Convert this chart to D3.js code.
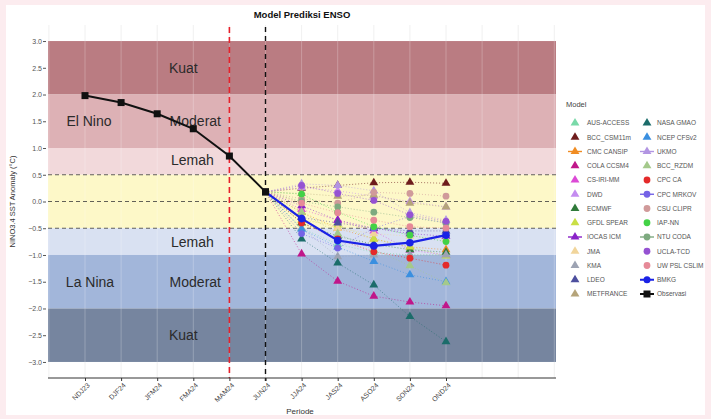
<!DOCTYPE html>
<html>
<head>
<meta charset="utf-8">
<script src="https://cdn.jsdelivr.net/npm/d3@7"></script>
<style>
  html, body { margin: 0; padding: 0; background: #fcecef; }
  svg { display: block; font-family: "Liberation Sans", Arial, sans-serif; }
</style>
</head>
<body>
<svg id="chart" width="711" height="419"></svg>
<script>
// Seasons on the x axis
const periods = ["NDJ23", "DJF24", "JFM24", "FMA24", "MAM24", "JUN24", "JJA24", "JAS24", "ASO24", "SON24", "OND24"];
const forecastPeriods = ["JJA24", "JAS24", "ASO24", "SON24", "OND24"];
const yTicks = [3.0, 2.5, 2.0, 1.5, 1.0, 0.5, 0.0, -0.5, -1.0, -1.5, -2.0, -2.5, -3.0];

// Observed NINO3.4 anomaly
const observedPeriods = ["NDJ23", "DJF24", "JFM24", "FMA24", "MAM24", "JUN24"];
const observedValues = [1.98, 1.85, 1.64, 1.36, 0.85, 0.18];

// BMKG forecast (starts from the last observation)
const bmkgPeriods = ["JUN24", "JJA24", "JAS24", "ASO24", "SON24", "OND24"];
const bmkgValues = [0.18, -0.32, -0.73, -0.83, -0.77, -0.63];

// Model names, in legend order
const modelNames = [
  "AUS-ACCESS", "BCC_CSM11m", "CMC CANSIP", "COLA CCSM4", "CS-IRI-MM", "DWD", "ECMWF",
  "GFDL SPEAR", "IOCAS ICM", "JMA", "KMA", "LDEO", "METFRANCE",
  "NASA GMAO", "NCEP CFSv2", "UKMO", "BCC_RZDM", "CPC CA", "CPC MRKOV", "CSU CLIPR",
  "IAP-NN", "NTU CODA", "UCLA-TCD", "UW PSL CSLIM"
];
// Model type: dynamical (triangle) or statistical (circle)
const modelTypes = [
  "dyn", "dyn", "dyn", "dyn", "dyn", "dyn", "dyn", "dyn", "dyn", "dyn", "dyn", "dyn", "dyn",
  "dyn", "dyn", "dyn", "dyn", "stat", "stat", "stat", "stat", "stat", "stat", "stat"
];
// Forecasts for JJA, JAS, ASO, SON, OND
const aus = [-0.50, -0.80, -0.95, -1.00, -1.00];
const bccCsm = [0.25, 0.30, 0.35, 0.36, 0.34];
const cmcCansip = [-0.20, -0.50, -0.70, -0.85, -0.90];
const colaCcsm4 = [-0.98, -1.49, -1.77, -1.88, -1.95];
const csIriMm = [-0.15, -0.35, -0.55, -0.91, -1.00];
const dwd = [0.26, 0.20, 0.10, 0.00, -0.10];
const ecmwf = [-0.40, -0.65, -0.80, -0.90, -0.95];
const gfdlSpear = [-0.35, -0.44, -0.70, -0.85, -1.02];
const iocasIcm = [-0.08, -0.35, -0.50, -0.60, -0.65];
const jma = [-0.30, -0.50, -0.60, -0.65, -0.70];
const kma = [-0.50, -1.03, -1.00, -1.00, -1.00];
const ldeo = [-0.30, -0.40, -0.50, -0.55, -0.55];
const metFrance = [0.15, 0.10, 0.12, -0.03, -0.10];
const nasaGmao = [-0.70, -1.15, -1.56, -2.15, -2.62];
const ncepCfsv2 = [-0.52, -0.85, -1.12, -1.37, -1.50];
const ukmo = [0.33, 0.30, 0.20, -0.21, -0.35];
const bccRzdm = [-0.20, -0.60, -0.90, -1.20, -1.52];
const cpcCa = [-0.40, -0.70, -0.94, -1.06, -1.19];
const cpcMrkov = [-0.60, -0.87, -0.50, -0.28, -0.40];
const csuClipr = [0.05, -0.03, 0.17, 0.15, 0.10];
const iapNn = [0.14, -0.20, -0.47, -0.63, -0.75];
const ntuCoda = [0.00, -0.10, -0.20, -0.30, -0.40];
const uclaTcd = [0.30, 0.15, 0.02, -0.25, -0.37];
const uwPslCslim = [-0.03, -0.21, -0.35, -0.47, -0.50];
const modelValues = [aus, bccCsm, cmcCansip, colaCcsm4, csIriMm, dwd, ecmwf, gfdlSpear, iocasIcm,
  jma, kma, ldeo, metFrance, nasaGmao, ncepCfsv2, ukmo, bccRzdm, cpcCa, cpcMrkov, csuClipr,
  iapNn, ntuCoda, uclaTcd, uwPslCslim];

// ENSO intensity categories
const bandLows = [2.0, 1.0, 0.5, -0.5, -1.0, -2.0, -3.0];
const bandHighs = [3.0, 2.0, 1.0, 0.5, -0.5, -1.0, -2.0];
const bandLabels = [
  { text: "Kuat", x: "FMA24", dx: -10, value: 2.5 },
  { text: "El Nino", x: "NDJ23", dx: 4, value: 1.5 },
  { text: "Moderat", x: "FMA24", dx: 2, value: 1.5 },
  { text: "Lemah", x: "FMA24", dx: -1, value: 0.78 },
  { text: "Lemah", x: "FMA24", dx: -1, value: -0.75 },
  { text: "La Nina", x: "NDJ23", dx: 5, value: -1.5 },
  { text: "Moderat", x: "FMA24", dx: 2, value: -1.5 },
  { text: "Kuat", x: "FMA24", dx: -10, value: -2.5 }
];

// ---- styling ----
const bandColors = ["#ba7c82", "#ddb1b5", "#f2d9db", "#fdf8c8", "#d9e1f2", "#a2b6da", "#76859f"];
const modelColors = [
  "#79d9a8", "#6e1c1c", "#f08c22", "#c0168a", "#dc4ad6", "#c48cf0", "#2f7a3a",
  "#c9df45", "#8a22c8", "#f1d59b", "#9da3b3", "#4d4f9e", "#b5a47a",
  "#1b6c6a", "#3a8fe0", "#b295e2", "#a4c98b", "#e42a2a", "#7563e6", "#d09a9a",
  "#43d246", "#7eaa80", "#9552d2", "#e68a98"
];
const solidKey = new Set(["CMC CANSIP", "IOCAS ICM", "UKMO", "CPC MRKOV", "NTU CODA"]);

const svg = d3.select("#chart");

// card
svg.append("rect").attr("x", 6).attr("y", 5).attr("width", 699).attr("height", 410).attr("fill", "#ffffff");

const panel = { left: 48, right: 556, top: 25, bottom: 378 };

const x = d3.scalePoint().domain(periods).range([85, 446]);
const y = d3.scaleLinear().domain([-3.3, 3.3]).range([panel.bottom, panel.top]);

// vertical grid outside the bands
const gridX = d3.range(-1, 14).map(i => 85 + i * x.step()).filter(v => v > panel.left && v < panel.right);
svg.append("g").selectAll("line").data(gridX).join("line")
  .attr("x1", d => d).attr("x2", d => d)
  .attr("y1", panel.top).attr("y2", panel.bottom)
  .attr("stroke", "#ececec").attr("stroke-width", 0.8);

// bands
svg.append("g").selectAll("rect").data(bandLows).join("rect")
  .attr("x", panel.left).attr("width", panel.right - panel.left)
  .attr("y", (d, i) => y(bandHighs[i]))
  .attr("height", (d, i) => y(d) - y(bandHighs[i]))
  .attr("fill", (d, i) => bandColors[i]);

// grid lines over the bands
svg.append("g").selectAll("line").data(gridX).join("line")
  .attr("x1", d => d).attr("x2", d => d)
  .attr("y1", y(3)).attr("y2", y(-3))
  .attr("stroke", "#ffffff").attr("stroke-opacity", 0.3).attr("stroke-width", 0.8);

// threshold dashes
svg.append("g").selectAll("line").data([0.5, 0, -0.5]).join("line")
  .attr("x1", panel.left).attr("x2", panel.right)
  .attr("y1", d => y(d)).attr("y2", d => y(d))
  .attr("stroke", "#3a3a3a").attr("stroke-width", 0.8).attr("stroke-dasharray", "4,3");

// band labels
svg.append("g").selectAll("text").data(bandLabels).join("text")
  .attr("x", d => x(d.x) + d.dx).attr("y", d => y(d.value))
  .attr("dy", "0.35em").attr("text-anchor", "middle")
  .attr("font-size", 14).attr("fill", "#2b2b2b")
  .text(d => d.text);

// vertical markers
svg.append("line").attr("x1", x("MAM24")).attr("x2", x("MAM24"))
  .attr("y1", panel.top + 2).attr("y2", panel.bottom)
  .attr("stroke", "#e8202a").attr("stroke-width", 1.6).attr("stroke-dasharray", "6,4");
svg.append("line").attr("x1", x("JUN24")).attr("x2", x("JUN24"))
  .attr("y1", panel.top + 2).attr("y2", panel.bottom + 3)
  .attr("stroke", "#111").attr("stroke-width", 1.4).attr("stroke-dasharray", "5,4");

// model plume lines (dotted, starting from the last observation)
const startVal = observedValues[observedValues.length - 1];
const lineGen = d3.line().x(d => x(d[0])).y(d => y(d[1]));
modelValues.forEach((vals, i) => {
  const pts = [["JUN24", startVal]].concat(forecastPeriods.map((p, j) => [p, vals[j]]));
  svg.append("path").attr("d", lineGen(pts)).attr("fill", "none")
    .attr("stroke", modelColors[i]).attr("stroke-width", 0.7)
    .attr("stroke-dasharray", "1,2").attr("opacity", 0.85);
});

const tri = d3.symbol().type(d3.symbolTriangle).size(34);
const circ = d3.symbol().type(d3.symbolCircle).size(36);

function marker(g, type, color, cx, cy) {
  g.append("path").attr("d", type === "dyn" ? tri() : circ())
    .attr("transform", `translate(${cx},${cy})`).attr("fill", color);
}

// model points
const ptsG = svg.append("g");
modelValues.forEach((vals, i) => {
  vals.forEach((v, j) => marker(ptsG, modelTypes[i], modelColors[i], x(forecastPeriods[j]), y(v)));
});

// observed line
svg.append("path")
  .attr("d", lineGen(observedPeriods.map((p, i) => [p, observedValues[i]])))
  .attr("fill", "none").attr("stroke", "#111").attr("stroke-width", 2);
svg.append("g").selectAll("rect").data(observedValues).join("rect")
  .attr("x", (d, i) => x(observedPeriods[i]) - 3.5).attr("y", d => y(d) - 3.5)
  .attr("width", 7).attr("height", 7).attr("fill", "#111");

// BMKG line
svg.append("path")
  .attr("d", lineGen(bmkgPeriods.map((p, i) => [p, bmkgValues[i]])))
  .attr("fill", "none").attr("stroke", "#1a22e6").attr("stroke-width", 2.2);
svg.append("g").selectAll("circle").data(bmkgValues.slice(1)).join("circle")
  .attr("cx", (d, i) => x(bmkgPeriods[i + 1])).attr("cy", d => y(d))
  .attr("r", 3.8).attr("fill", "#1a22e6");
// last observed point on top
svg.append("rect").attr("x", x("JUN24") - 3.5).attr("y", y(startVal) - 3.5)
  .attr("width", 7).attr("height", 7).attr("fill", "#111");

// axes
const xAxis = svg.append("g").attr("transform", `translate(0,${panel.bottom})`)
  .call(d3.axisBottom(x).tickSize(3).tickSizeOuter(0));
xAxis.select(".domain").remove();
svg.append("line").attr("x1", panel.left).attr("x2", panel.right)
  .attr("y1", panel.bottom).attr("y2", panel.bottom).attr("stroke", "#333").attr("stroke-width", 1);
xAxis.selectAll(".tick line").attr("stroke", "#333");
xAxis.selectAll(".tick text")
  .attr("font-size", 7).attr("fill", "#444")
  .attr("text-anchor", "end")
  .attr("transform", "translate(3,6) rotate(-45)")
  .attr("dy", "0.35em").attr("y", 0).attr("x", 0);

const yAxis = svg.append("g").attr("transform", `translate(${panel.left - 2},0)`)
  .call(d3.axisLeft(y).tickValues(yTicks).tickFormat(d3.format(".1f")).tickSize(3));
yAxis.select(".domain").remove();
yAxis.selectAll(".tick line").attr("stroke", "#555");
yAxis.selectAll(".tick text").attr("font-size", 7).attr("fill", "#555").attr("x", -4);

// titles
svg.append("text").attr("x", 302).attr("y", 18).attr("text-anchor", "middle")
  .attr("font-size", 9.5).attr("font-weight", "bold").attr("fill", "#111")
  .text("Model Prediksi ENSO");
svg.append("text").attr("x", 300).attr("y", 414).attr("text-anchor", "middle")
  .attr("font-size", 8).attr("fill", "#333").text("Periode");
svg.append("text").attr("transform", `translate(15,${y(0)}) rotate(-90)`)
  .attr("text-anchor", "middle").attr("font-size", 7.5).attr("fill", "#333")
  .text("NINO3.4 SST Anomaly (°C)");

// legend
const leg = svg.append("g");
leg.append("text").attr("x", 566).attr("y", 107).attr("font-size", 7.5).attr("fill", "#444").text("Model");
const legendItems = modelNames.map((n, i) => ({ name: n, color: modelColors[i], type: modelTypes[i] }));
legendItems.push({ name: "BMKG", color: "#1a22e6", type: "bmkg" });
legendItems.push({ name: "Observasi", color: "#111", type: "obs" });
legendItems.forEach((d, i) => {
  const col = i < 13 ? 0 : 1;
  const row = i < 13 ? i : i - 13;
  const kx = col === 0 ? 575 : 647;
  const ky = 123 + row * 14.25;
  const g = leg.append("g");
  if (d.type === "bmkg" || d.type === "obs") {
    g.append("line").attr("x1", kx - 7).attr("x2", kx + 7).attr("y1", ky).attr("y2", ky)
      .attr("stroke", d.color).attr("stroke-width", 2);
    if (d.type === "obs") g.append("rect").attr("x", kx - 3.5).attr("y", ky - 3.5).attr("width", 7).attr("height", 7).attr("fill", d.color);
    else g.append("circle").attr("cx", kx).attr("cy", ky).attr("r", 3.5).attr("fill", d.color);
  } else {
    if (solidKey.has(d.name)) {
      g.append("line").attr("x1", kx - 7).attr("x2", kx + 7).attr("y1", ky).attr("y2", ky)
        .attr("stroke", d.color).attr("stroke-width", 1.4);
    }
    marker(g, d.type, d.color, kx, ky);
  }
  g.append("text").attr("x", col === 0 ? 587 : 657).attr("y", ky).attr("dy", "0.35em")
    .attr("font-size", 6.5).attr("fill", "#555").text(d.name);
});
</script>
</body>
</html>
